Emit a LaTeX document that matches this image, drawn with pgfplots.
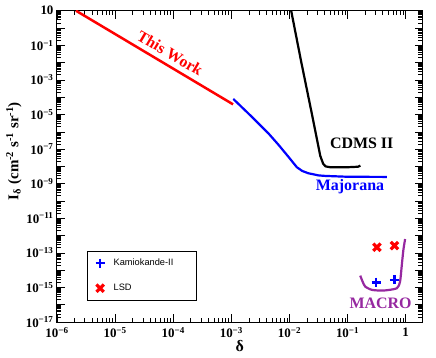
\documentclass[border=0pt]{standalone}
\usepackage{fontspec}
\setmainfont{Liberation Serif}
\newfontfamily\legendfont{Liberation Sans}
\usepackage{pgfplots}
\pgfplotsset{compat=1.18}
\definecolor{macro}{RGB}{150,40,160}

% minor ticks 2..9 in every decade
\def\yminor{2e-17}
\foreach \e in {-17,...,0}{\foreach \m in {2,...,9}{\xdef\yminor{\yminor,\m e\e}}}
\def\xminor{2e-6}
\foreach \e in {-6,...,-1}{\foreach \m in {2,...,9}{\xdef\xminor{\xminor,\m e\e}}}

\begin{document}
\begin{tikzpicture}
\path[use as bounding box] (-57bp,-36bp) rectangle (379bp,322bp);
\begin{axis}[
    scale only axis,
    width=365.7bp, height=311.3bp,
    xmode=log, ymode=log,
    xmin=1e-6, xmax=1.96,
    ymin=1e-17, ymax=10,
    xtickten={-6,...,0},
    xticklabels={10\textsuperscript{−6},10\textsuperscript{−5},10\textsuperscript{−4},10\textsuperscript{−3},10\textsuperscript{−2},10\textsuperscript{−1},1},
    ytickten={-17,...,1},
    yticklabels={10\textsuperscript{−17},{},10\textsuperscript{−15},{},10\textsuperscript{−13},{},10\textsuperscript{−11},{},10\textsuperscript{−9},{},10\textsuperscript{−7},{},10\textsuperscript{−5},{},10\textsuperscript{−3},{},10\textsuperscript{−1},{},10},
    minor xtick/.expand once=\xminor,
    minor ytick/.expand once=\yminor,
    tick align=inside,
    major tick length=8bp, minor tick length=4.5bp,
    every tick/.style={black, line width=0.5bp},
    axis line style={line width=1bp},
    ticklabel style={font=\bfseries\fontsize{13}{13}\selectfont},
    xticklabel style={yshift=-2bp},
    xlabel={\bfseries δ},
    xlabel style={font=\fontsize{16}{16}\selectfont, at={([yshift=-29.7bp]rel axis cs:0.5,0)}, anchor=base},
    ylabel={\bfseries I\textsubscript{δ} (cm\textsuperscript{-2} s\textsuperscript{-1} sr\textsuperscript{-1})},
    ylabel style={font=\fontsize{15}{15}\selectfont, at={([xshift=-38.7bp]rel axis cs:0,0.549)}, anchor=base},
    legend style={at={(0.083,0.229)}, anchor=north west, draw=black, line width=0.6bp,
        font=\legendfont\fontsize{9.3}{11}\selectfont, inner xsep=8bp, inner ysep=6bp,
        row sep=13bp},
    legend cell align=left,
]
% Kamiokande-II
\addplot[only marks, blue, mark=+, mark size=4.5bp, line width=2.7bp] coordinates {
    (0.31, 2.0e-15) (0.64, 2.7e-15)
};
\addlegendentry{\makebox[80bp][l]{\hspace{7bp}Kamiokande-II}}
% LSD
\addplot[only marks, red, mark=x, mark size=5.2bp, line width=3.2bp] coordinates {
    (0.32, 2.1e-13) (0.64, 2.6e-13)
};
\addlegendentry{\makebox[80bp][l]{\hspace{7bp}LSD}}

% This Work
\addplot[red, line width=2.5bp, forget plot] coordinates {
    (2.12e-6, 10) (1.07e-3, 3.85e-5)
};
% Majorana
\addplot[blue, line width=2.2bp, forget plot] coordinates {
    (1.08e-3, 7.9e-5) (2.09e-3, 9.3e-6) (4.34e-3, 8.1e-7) (6.46e-3, 1.78e-7)
    (9.57e-3, 3.6e-8) (1.34e-2, 8.9e-9) (1.66e-2, 5.4e-9) (2.11e-2, 4.0e-9)
    (3.16e-2, 3.0e-9) (4.1e-2, 2.8e-9) (0.1, 2.5e-9) (0.473, 2.45e-9)
};
% CDMS II
\addplot[black, line width=2.2bp, forget plot] coordinates {
    (1.07e-2, 10) (1.58e-2, 1.26e-2) (2.51e-2, 6.3e-6) (3.39e-2, 4.0e-8)
    (3.8e-2, 1.41e-8) (4.17e-2, 1.0e-8) (5.0e-2, 8.9e-9) (0.1, 8.9e-9)
    (0.151, 9.5e-9) (0.166, 1.1e-8)
};
% MACRO
\addplot[macro, line width=2.2bp, smooth, tension=0.4, forget plot] coordinates {
    (0.165, 4.8e-15) (0.182, 2.1e-15) (0.201, 1.12e-15) (0.263, 7.2e-16)
    (0.417, 6.6e-16) (0.703, 8.9e-16) (0.80, 2.2e-15) (0.857, 2.0e-14)
    (0.912, 1.48e-13) (0.977, 6.3e-13)
};

\node[red, rotate=-30.5, font=\bfseries\fontsize{16}{16}\selectfont] at (axis cs:8.8e-5,3.6e-2) {This Work};
\node[black, font=\bfseries\fontsize{16}{16}\selectfont] at (axis cs:0.175,2.2e-7) {CDMS II};
\node[blue, font=\bfseries\fontsize{16}{16}\selectfont] at (axis cs:0.110,6.5e-10) {Majorana};
\node[macro, font=\bfseries\fontsize{16}{16}\selectfont] at (axis cs:0.37,1.2e-16) {MACRO};
\end{axis}
\end{tikzpicture}
\end{document}
